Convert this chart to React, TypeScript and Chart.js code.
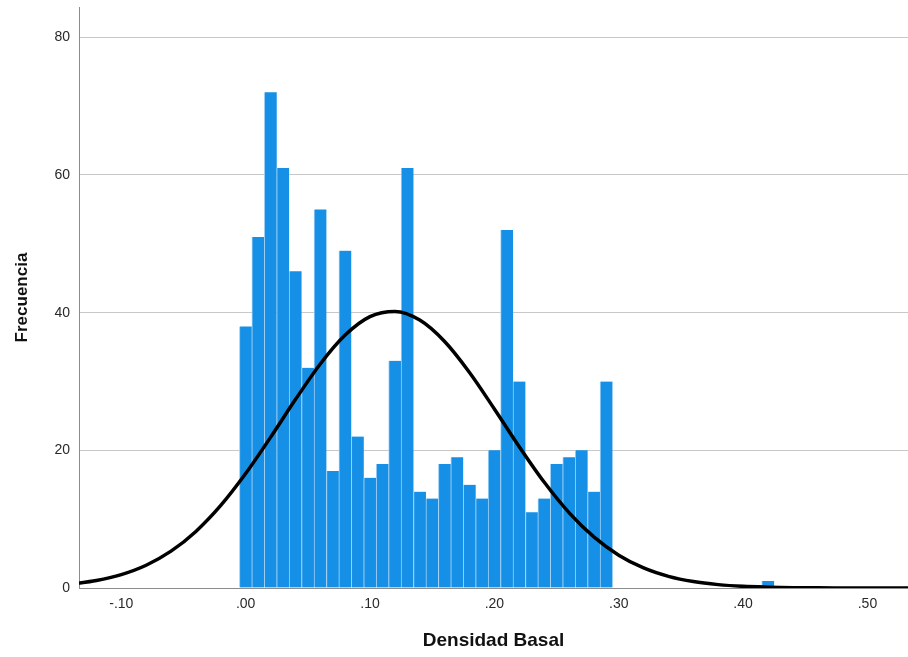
import React, { useEffect, useRef } from "react";
import { Chart, registerables } from "chart.js";

Chart.register(...registerables);

// Histogram bins (bin centres, width 0.01) and counts
const binCenters = [
  0.0, 0.01, 0.02, 0.03, 0.04, 0.05, 0.06, 0.07, 0.08, 0.09,
  0.1, 0.11, 0.12, 0.13, 0.14, 0.15, 0.16, 0.17, 0.18, 0.19,
  0.2, 0.21, 0.22, 0.23, 0.24, 0.25, 0.26, 0.27, 0.28, 0.29, 0.42,
];
const binCounts = [
  38, 51, 72, 61, 46, 32, 55, 17, 49, 22,
  16, 18, 33, 61, 14, 13, 18, 19, 15, 13,
  20, 52, 30, 11, 13, 18, 19, 20, 14, 30, 1,
];

// Fitted normal curve
const curveX = [
  -0.14, -0.12, -0.1, -0.08, -0.06, -0.04, -0.02, 0.0, 0.02, 0.04, 0.06, 0.08,
  0.1, 0.12, 0.14, 0.16, 0.18, 0.2, 0.22, 0.24, 0.26, 0.28, 0.3, 0.32, 0.34,
  0.36, 0.38, 0.4, 0.42, 0.44, 0.46, 0.48, 0.5, 0.52, 0.54,
];
const curveY = [
  0.58, 1.09, 1.95, 3.31, 5.35, 8.22, 11.99, 16.62, 21.88, 27.37, 32.54, 36.74,
  39.42, 40.18, 38.92, 35.81, 31.31, 26.01, 20.53, 15.39, 10.96, 7.42, 4.77, 2.91, 1.69,
  0.93, 0.49, 0.24, 0.12, 0.05, 0.02, 0.01, 0.0, 0.0, 0.0,
];

const yTicks = [0, 20, 40, 60, 80];
const xTicks = [-0.1, 0.0, 0.1, 0.2, 0.3, 0.4, 0.5];

const xTitle = "Densidad Basal";
const yTitle = "Frecuencia";

export default function App() {
  const ref = useRef<HTMLCanvasElement | null>(null);

  useEffect(() => {
    if (!ref.current) return;
    const fmt = (v: number) => {
      const s = Number(v).toFixed(2);
      return s.replace(/^(-?)0\./, "$1.");
    };
    const chart = new Chart(ref.current, {
      type: "bar",
      data: {
        datasets: [
          {
            type: "line",
            data: curveX.map((x, i) => ({ x, y: curveY[i] })),
            borderColor: "#000000",
            borderWidth: 3.5,
            pointRadius: 0,
            fill: false,
            cubicInterpolationMode: "monotone",
            order: 0,
          } as any,
          {
            type: "bar",
            data: binCenters.map((x, i) => ({ x, y: binCounts[i] })),
            backgroundColor: "#1590e6",
            borderColor: "#9fd0f5",
            borderWidth: { left: 1, right: 0, top: 0, bottom: 0 },
            borderSkipped: false,
            barPercentage: 1,
            categoryPercentage: 1,
            order: 1,
          } as any,
        ],
      },
      options: {
        responsive: false,
        animation: false,
        layout: { padding: { top: 7, right: 0, left: 0, bottom: 0 } },
        plugins: {
          legend: { display: false },
          tooltip: { enabled: false },
        },
        scales: {
          x: {
            type: "linear",
            min: -0.134,
            max: 0.5326,
            offset: false,
            afterFit: (s: any) => {
              s.height = 69;
              s.paddingLeft = 0;
              s.paddingRight = 0;
            },
            afterBuildTicks: (s: any) => {
              s.ticks = xTicks.map((v) => ({ value: v }));
            },
            ticks: {
              callback: (v: any) => fmt(v),
              font: { family: "Liberation Sans", size: 14 },
              color: "#2a2a2a",
              padding: 8,
              maxRotation: 0,
              autoSkip: false,
            },
            grid: { display: false, drawTicks: false },
            border: { display: true, color: "#8c8c8c", width: 1 },
            title: {
              display: true,
              text: xTitle,
              font: { family: "Liberation Sans", size: 19, weight: "bold" },
              color: "#111111",
              padding: { top: 0, bottom: 5 },
            },
          },
          y: {
            type: "linear",
            min: 0,
            max: 84.4,
            afterFit: (s: any) => {
              s.width = 79;
              s.paddingTop = 0;
              s.paddingBottom = 0;
            },
            afterBuildTicks: (s: any) => {
              s.ticks = yTicks.map((v) => ({ value: v }));
            },
            ticks: {
              font: { family: "Liberation Sans", size: 14 },
              color: "#2a2a2a",
              padding: 9,
            },
            grid: { color: "#c8c8c8", lineWidth: 1, drawTicks: false },
            border: { display: true, color: "#8c8c8c", width: 1 },
            title: {
              display: true,
              text: yTitle,
              font: { family: "Liberation Sans", size: 17, weight: "bold" },
              color: "#111111",
              padding: { top: 12, bottom: 0 },
            },
          },
        },
      } as any,
    });
    return () => chart.destroy();
  }, []);

  return (
    <div style={{ position: "fixed", left: 0, top: 0, width: 908, height: 657, background: "#ffffff" }}>
      <canvas ref={ref} width={908} height={657} style={{ width: 908, height: 657, display: "block" }} />
    </div>
  );
}
